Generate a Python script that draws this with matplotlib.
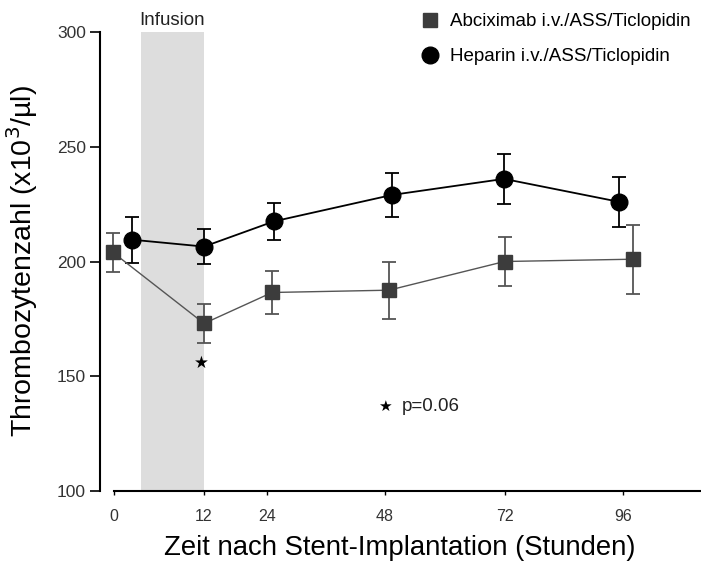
import matplotlib
matplotlib.use("Agg")
import matplotlib.pyplot as plt
from matplotlib.lines import Line2D

plt.rcParams['font.family'] = ['Liberation Sans', 'DejaVu Sans']

# x tick positions on the (non-linear) time axis, and their labels (hours)
tick_pos = [0.0, 0.763, 1.297, 2.297, 3.314, 4.314]
tick_labels = ["0", "12", "24", "48", "72", "96"]

# Abciximab i.v./ASS/Ticlopidin
abc_x = [-0.01, 0.763, 1.34, 2.33, 3.31, 4.40]
abc_y = [204, 173, 186.5, 187.5, 200, 201]
abc_err = [8.5, 8.5, 9.5, 12.5, 10.5, 15]

# Heparin i.v./ASS/Ticlopidin
hep_x = [0.153, 0.763, 1.356, 2.356, 3.305, 4.28]
hep_y = [209.5, 206.5, 217.5, 229, 236, 226]
hep_err = [10, 7.5, 8, 9.6, 11, 11]

infusion_span = [0.229, 0.763]

fig = plt.figure(figsize=(7.01, 5.71), dpi=100)
ax = fig.add_axes([100/701, 80/571, 600/701, 459/571])

ax.axvspan(infusion_span[0], infusion_span[1], ymin=0, ymax=1, color='#dddddd', zorder=0, lw=0)

ax.errorbar(hep_x, hep_y, yerr=hep_err, fmt='-o', color='black', ecolor='black',
            markersize=12, lw=1.3, elinewidth=1.3, capsize=5, capthick=1.3, zorder=3)
ax.errorbar(abc_x, abc_y, yerr=abc_err, fmt='-s', color='#555555', ecolor='#555555',
            mfc='#3c3c3c', mec='#3c3c3c',
            markersize=10, lw=1.0, elinewidth=1.3, capsize=5, capthick=1.3, zorder=4)

ax.set_xlim(-0.1186, 4.966)
ax.set_ylim(100, 300)
ax.set_yticks([100, 150, 200, 250, 300])
ax.set_xticks(tick_pos)
ax.set_xticklabels(tick_labels)

for s in ['top', 'right']:
    ax.spines[s].set_visible(False)
ax.spines['bottom'].set_bounds(0, 4.966)
ax.spines['left'].set_linewidth(1.5)
ax.spines['bottom'].set_linewidth(1.5)

ax.tick_params(axis='y', direction='out', length=7, width=1.2, labelsize=12.5,
               labelcolor='#333333', pad=3)
ax.tick_params(axis='x', direction='out', length=3, width=1.0, labelsize=11.5,
               labelcolor='#333333', pad=10)

ax.set_xlabel("Zeit nach Stent-Implantation (Stunden)", fontsize=19.8, labelpad=8)
ax.set_ylabel("Thrombozytenzahl (x10$^3$/µl)", fontsize=20.5, labelpad=12)

ax.text(sum(infusion_span)/2, 301.5, "Infusion", ha='center', va='bottom', fontsize=13.5,
        color='#222222')
ax.text(0.743, 156, "★", ha='center', va='center', fontsize=12, color='black',
        family=['DejaVu Sans'])
ax.text(2.297, 137, "★", ha='center', va='center', fontsize=11, color='black',
        family=['DejaVu Sans'])
ax.text(2.44, 137, "p=0.06", ha='left', va='center', fontsize=13.5, color='#222222')

handles = [Line2D([], [], ls='none', marker='s', markersize=10, mfc='#3c3c3c', mec='#3c3c3c'),
           Line2D([], [], ls='none', marker='o', markersize=12, mfc='black', mec='black')]
fig.legend(handles, ["Abciximab i.v./ASS/Ticlopidin", "Heparin i.v./ASS/Ticlopidin"],
           loc='upper left', bbox_to_anchor=(421/701, 1 - 13/571), frameon=False,
           fontsize=13.5, handlelength=1.0, handletextpad=0.55, borderpad=0,
           labelspacing=0.95, borderaxespad=0)

fig.savefig("out.png", dpi=100)
